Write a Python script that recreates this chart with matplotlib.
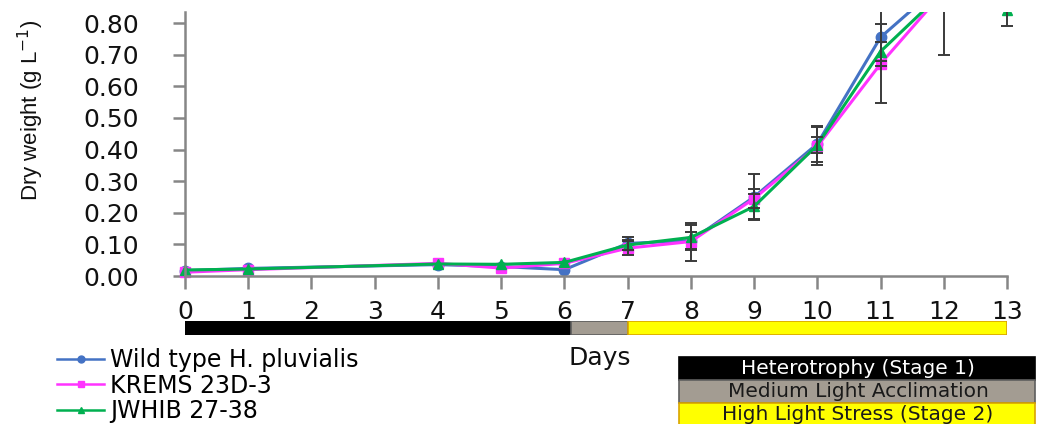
import matplotlib
matplotlib.use("Agg")
import matplotlib.pyplot as plt
from matplotlib.lines import Line2D
from matplotlib.patches import Rectangle

nan = float("nan")

# growth data (nan = no visible error bar)
days = [0, 1, 4, 5, 6, 7, 8, 9, 10, 11, 12, 13]
wild = [0.017, 0.024, 0.036, 0.030, 0.020, 0.103, 0.112, 0.250, 0.418, 0.755, 0.93, 1.02]
wild_err = [nan, nan, nan, nan, nan, 0.020, 0.028, 0.072, 0.057, 0.090, 0.05, 0.05]
krems = [0.012, 0.020, 0.040, 0.025, 0.040, 0.088, 0.109, 0.245, 0.410, 0.671, 0.90, 0.98]
krems_err = [nan, nan, nan, nan, nan, 0.022, 0.060, 0.030, 0.060, 0.125, 0.20, 0.05]
jwhib = [0.019, 0.022, 0.038, 0.037, 0.043, 0.098, 0.122, 0.220, 0.414, 0.710, 0.90, 0.84]
jwhib_err = [nan, nan, nan, nan, nan, 0.015, 0.040, 0.040, 0.026, 0.030, 0.04, 0.05]

series_names = ["Wild type H. pluvialis", "KREMS 23D-3", "JWHIB 27-38"]
series_colors = ["#4472C4", "#FF33FF", "#00B050"]
series_markers = ["o", "s", "^"]

# culture stages along the time axis
stage_edges = [0, 6.1, 7.0, 13]
stage_names = ["Heterotrophy (Stage 1)", "Medium Light Acclimation", "High Light Stress (Stage 2)"]
stage_colors = ["#000000", "#A39C92", "#FFFF00"]
stage_edgecolors = ["#000000", "#5E5E5E", "#D9A400"]
stage_textcolors = ["white", "#1A1A1A", "#1A1A1A"]

yticks = [0.0, 0.1, 0.2, 0.3, 0.4, 0.5, 0.6, 0.7, 0.8]

W, H = 1037, 424
fig = plt.figure(figsize=(W / 100, H / 100), dpi=100)
ax = fig.add_axes([185 / W, 1 - 276 / H, 822 / W, 264 / H])

clip = Rectangle((-0.05, -0.2), 1.1, 1.2, transform=ax.transAxes)

data = [(wild, wild_err), (krems, krems_err), (jwhib, jwhib_err)]
for (vals, errs), name, col, mk in zip(data, series_names, series_colors, series_markers):
    ln, = ax.plot(days, vals, color=col, marker=mk, markersize=7.5, lw=2.2, zorder=2, label=name)
    ln.set_clip_path(clip)
    eb = ax.errorbar(days, vals, yerr=errs, fmt="none", ecolor="#3A3A3A",
                     elinewidth=1.4, capsize=4, capthick=1.4, zorder=3)
    for a in list(eb.lines[1]) + list(eb.lines[2]):
        a.set_clip_path(clip)

ax.set_xlim(0, 13)
ax.set_ylim(0, 0.835)
ax.set_xticks(range(0, 14))
ax.set_yticks(yticks)
ax.set_yticklabels([f"{v:.2f}" for v in yticks])
for s in ["top", "right"]:
    ax.spines[s].set_visible(False)
for s in ["left", "bottom"]:
    ax.spines[s].set_color("#868686")
    ax.spines[s].set_linewidth(1.8)
ax.tick_params(axis="both", direction="out", length=9, width=1.8, color="#868686",
               labelsize=18, labelcolor="#111111")
ax.tick_params(axis="x", pad=8)
ax.tick_params(axis="y", pad=24)

fig.text(31 / W, 1 - 110 / H, "Dry weight (g L$^{-1}$)", rotation=90,
         ha="center", va="center", fontsize=16,
         family="Liberation Sans", color="#111111")

# stage bar under the axis
sax = fig.add_axes([185 / W, 1 - 335 / H, 822 / W, 14 / H], sharex=ax)
for i in range(len(stage_names)):
    sax.barh(0, stage_edges[i + 1] - stage_edges[i], left=stage_edges[i], height=1,
             color=stage_colors[i], edgecolor=stage_edgecolors[i], linewidth=1.2)
sax.set_ylim(-0.5, 0.5)
sax.axis("off")

fig.text(600 / W, 1 - 358 / H, "Days", ha="center", va="center", fontsize=18,
         color="#111111")

# series legend
handles = [Line2D([0], [0], color=c, marker=m, markersize=5, lw=1.8)
           for c, m in zip(series_colors, series_markers)]
fig.legend(handles, series_names, loc="upper left", bbox_to_anchor=(57 / W, 1 - 348 / H),
           frameon=False, borderpad=0, borderaxespad=0, handlelength=2.0,
           handletextpad=0.25, labelspacing=0.07, prop={"size": 17})

# stage legend boxes
box_tops = [357, 380, 403]
box_bottoms = [380, 403, 426]
for name, fc, ec, tc, t, b in zip(stage_names, stage_colors, stage_edgecolors,
                                  stage_textcolors, box_tops, box_bottoms):
    fig.patches.append(Rectangle((679 / W, 1 - b / H), 356 / W, (b - t) / H,
                                 transform=fig.transFigure, facecolor=fc, edgecolor=ec,
                                 linewidth=1.2))
    fig.text(858 / W, 1 - (t + b) / 2 / H, name, ha="center", va="center",
             fontsize=14.5, color=tc)

fig.savefig("out.png", dpi=100)
